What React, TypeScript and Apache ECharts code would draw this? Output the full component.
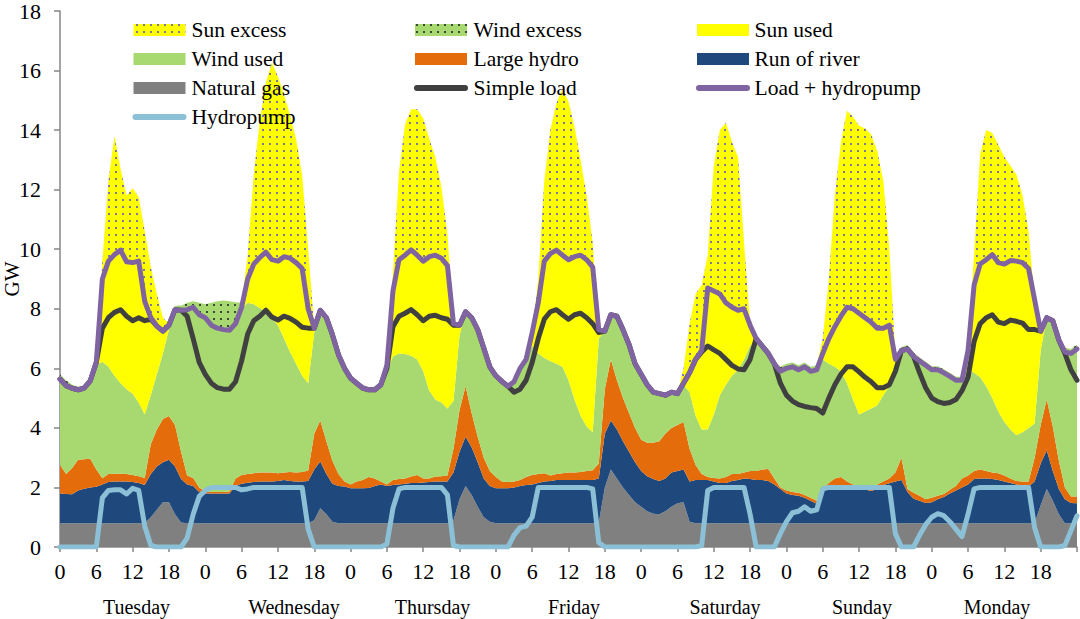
import { useEffect, useRef } from 'react';
import * as echarts from 'echarts';

// Hourly values, Tuesday 0h .. Monday 24h (169 points), GW
const naturalGas = [
  0.8,0.8,0.8,0.8,0.8,0.8,0.8,0.8,0.8,0.8,0.8,0.8,0.8,0.8,0.8,1.0,1.25,1.5,1.5,1.1,0.82,0.8,0.8,0.8,
  0.8,0.8,0.8,0.8,0.8,0.8,0.8,0.8,0.8,0.8,0.8,0.8,0.8,0.8,0.8,0.8,0.8,0.8,0.9,1.3,1.1,0.85,0.8,0.8,
  0.8,0.8,0.8,0.8,0.8,0.8,0.8,0.8,0.8,0.8,0.8,0.8,0.8,0.8,0.8,0.8,0.8,0.9,1.6,2.05,1.75,1.35,1.0,0.85,
  0.8,0.8,0.8,0.8,0.8,0.8,0.8,0.8,0.8,0.8,0.8,0.8,0.8,0.8,0.8,0.8,0.8,0.8,2.0,2.6,2.3,2.0,1.75,1.5,
  1.35,1.2,1.12,1.1,1.2,1.35,1.47,1.5,0.85,0.8,0.8,0.8,0.8,0.8,0.8,0.8,0.8,0.8,0.8,0.8,0.8,0.8,0.8,0.8,
  0.8,0.8,0.8,0.8,0.8,0.8,0.8,0.8,0.8,0.8,0.8,0.8,0.8,0.8,0.8,0.8,0.8,0.8,0.8,0.8,0.8,0.8,0.8,0.8,
  0.8,0.8,0.8,0.8,0.8,0.8,0.8,0.8,0.8,0.8,0.8,0.8,0.8,0.8,0.8,0.8,0.8,0.8,1.4,1.95,1.55,1.1,0.8,0.8,0.8,
];
const runOfRiver = [
  1.0,0.98,0.97,1.1,1.16,1.2,1.22,1.3,1.38,1.4,1.4,1.4,1.38,1.35,1.28,1.45,1.45,1.35,1.43,1.6,1.46,1.3,1.25,1.05,
  1.0,1.0,1.0,1.0,1.0,1.25,1.32,1.36,1.38,1.4,1.4,1.4,1.42,1.45,1.42,1.4,1.4,1.42,1.7,1.57,1.35,1.27,1.25,1.23,
  1.17,1.17,1.17,1.18,1.25,1.3,1.25,1.28,1.3,1.32,1.35,1.35,1.37,1.38,1.4,1.4,1.4,1.6,1.6,1.65,1.6,1.5,1.3,1.2,
  1.17,1.17,1.17,1.2,1.25,1.28,1.3,1.35,1.4,1.42,1.45,1.45,1.45,1.45,1.45,1.45,1.45,1.5,1.8,1.65,1.65,1.55,1.45,1.35,
  1.2,1.18,1.16,1.12,1.1,1.15,1.08,1.1,1.35,1.45,1.45,1.45,1.4,1.35,1.35,1.42,1.45,1.5,1.48,1.45,1.45,1.42,1.3,1.15,
  1.0,0.95,0.92,0.85,0.75,0.65,1.1,1.2,1.23,1.2,1.17,1.17,1.17,1.13,1.08,1.15,1.28,1.34,1.4,1.45,1.05,0.82,0.75,0.68,
  0.7,0.8,0.88,1.0,1.1,1.2,1.3,1.48,1.5,1.5,1.48,1.45,1.4,1.35,1.3,1.25,1.23,1.4,1.4,1.3,1.0,0.85,0.8,0.68,0.67,
];
const largeHydro = [
  0.96,0.67,0.88,1.03,0.99,0.96,0.58,0.21,0.27,0.26,0.26,0.25,0.24,0.23,0.24,1.0,1.25,1.45,1.47,1.4,0.92,0.3,0.27,0.15,
  0.06,0.05,0.05,0.05,0.06,0.25,0.3,0.29,0.3,0.3,0.3,0.3,0.26,0.25,0.3,0.3,0.32,0.35,1.2,1.38,1.1,0.78,0.4,0.17,
  0.13,0.23,0.28,0.37,0.25,0.1,0.05,0.17,0.18,0.18,0.22,0.27,0.13,0.12,0.17,0.18,0.2,0.8,1.4,1.7,1.15,0.85,0.7,0.5,
  0.38,0.23,0.21,0.2,0.2,0.27,0.32,0.3,0.28,0.18,0.2,0.23,0.25,0.25,0.27,0.3,0.33,0.5,1.5,2.05,1.65,1.45,1.3,1.15,
  1.05,1.12,1.22,1.33,1.5,1.5,1.55,1.6,1.1,0.5,0.2,0.1,0.12,0.15,0.2,0.23,0.2,0.2,0.27,0.3,0.35,0.4,0.2,0.05,
  0.1,0.1,0.1,0.1,0.1,0.1,0.05,0.15,0.27,0.35,0.23,0.13,0.08,0.07,0.07,0.15,0.12,0.16,0.3,0.75,0.1,0.2,0.17,0.12,
  0.15,0.12,0.1,0.12,0.15,0.3,0.3,0.27,0.3,0.25,0.22,0.23,0.2,0.15,0.12,0.15,0.17,0.8,1.3,1.7,1.5,0.95,0.4,0.22,0.23,
];
const windUsed = [
  2.88,2.97,2.68,2.35,2.39,2.62,3.5,3.91,3.6,3.29,3.04,2.85,2.73,2.47,2.13,1.65,1.85,2.2,2.9,3.87,4.75,5.57,5.73,5.8,
  5.84,5.6,5.5,5.45,5.42,5.2,5.58,5.75,5.67,5.53,5.4,5.2,4.97,4.5,4.03,3.65,3.23,2.93,3.4,3.7,4.15,4.23,4.01,3.8,
  3.57,3.3,3.09,2.93,2.98,3.25,3.8,4.15,4.22,4.18,4.05,3.88,3.6,2.95,2.58,2.47,2.25,1.6,2.5,2.5,3.2,3.6,3.68,3.5,
  3.4,3.36,3.22,3.35,3.75,3.95,4.33,4.05,3.87,3.85,3.7,3.57,3.1,2.45,1.88,1.5,1.27,4.2,1.95,1.5,2.15,2.3,2.3,2.15,
  2.2,1.95,1.7,1.6,1.3,1.2,1.05,1.25,1.9,1.65,1.5,1.6,2.13,2.8,3.1,3.3,3.5,3.8,4.2,4.45,4.15,3.88,3.85,3.9,
  4.1,4.2,4.13,4.3,4.25,4.4,4.35,4.0,3.75,3.55,3.3,2.85,2.4,2.55,2.7,2.65,2.9,3.1,3.6,3.6,4.7,4.58,4.53,4.5,
  4.3,4.23,4.07,3.81,3.55,3.3,3.55,3.3,3.1,2.85,2.5,2.07,1.8,1.65,1.53,1.65,1.8,1.15,2.5,2.75,3.55,4.05,4.55,4.8,4.95,
];
const sunUsed = [
  0,0,0,0,0,0,0.1,2.78,3.55,4.07,4.47,4.28,4.4,4.75,3.8,2.6,1.62,0.75,0.15,0,0,0,0,0,
  0,0,0,0,0,0,0.05,0.8,1.35,1.69,2.0,1.95,2.15,2.75,3.15,3.4,3.6,2.5,0.15,0,0,0,0,0,
  0,0,0,0,0,0,0.2,2.2,3.15,3.32,3.56,3.5,3.75,4.5,4.85,4.85,4.8,2.6,0.35,0,0,0,0,0,
  0,0,0,0,0,0,0.4,1.7,3.25,3.6,3.82,3.75,4.05,4.8,5.4,5.6,5.55,0.3,0,0,0,0,0,0,
  0,0,0,0,0,0,0,0.05,0.65,1.9,2.65,4.75,4.15,3.4,2.75,2.3,2.0,1.7,0.7,0,0,0,0,0,
  0,0,0,0,0,0,0.2,0.85,1.35,1.85,2.55,3.05,3.4,3.15,2.9,2.6,2.25,2.05,0.2,0,0,0,0,0,
  0,0,0,0,0,0,0.65,2.95,3.8,4.25,4.82,5.0,5.3,5.67,5.85,5.7,5.35,4.15,0.65,0,0,0,0,0,0,
];
const windExcess = [
  0.16,0.18,0.12,0.1,0.06,0.02,0,0,0,0,0,0,0,0,0,0,0,0,0,0.13,0.15,0.23,0.2,0.4,
  0.45,0.75,0.9,0.98,0.97,0.72,0.15,0,0,0,0,0,0,0,0,0,0,0,0,0,0,0.02,0.04,0.05,
  0.08,0.08,0.08,0.08,0.07,0.05,0,0,0,0,0,0,0,0,0,0,0,0,0,0,0,0,0.02,0.05,
  0.05,0.06,0.06,0.05,0.05,0.05,0,0,0,0,0,0,0,0,0,0,0,0,0,0,0,0,0,0,
  0,0,0,0,0,0,0,0,0,0,0,0,0,0,0,0,0,0,0,0.05,0.1,0.1,0.1,0.15,
  0.15,0.15,0.15,0.15,0.15,0.15,0,0,0,0,0,0,0,0,0,0,0,0,0,0.12,0.13,0.12,0.12,0.12,
  0.12,0.12,0.12,0.12,0.12,0.12,0,0,0,0,0,0,0,0,0,0,0,0,0,0,0,0.02,0.15,0.15,0.15,
];
const sunExcess = [
  0,0,0,0,0,0,0,0.6,2.7,3.98,2.73,2.22,2.5,2.15,2.35,1.7,1.08,0.45,0.05,0,0,0,0,0,
  0,0,0,0,0,0,0,0.8,3.0,4.58,5.7,6.6,6.2,5.45,4.8,4.15,3.15,2.0,0,0,0,0,0,0,
  0,0,0,0,0,0,0.05,0.6,2.95,4.4,4.72,4.9,4.75,3.95,3.3,2.4,1.05,0,0,0,0,0,0,0,
  0,0,0,0,0,0,0,0.8,2.7,4.15,4.93,5.6,5.3,4.35,3.2,2.15,0.8,0,0,0,0,0,0,0,
  0,0,0,0,0,0,0,0.5,1.65,2.2,2.2,1.1,4.2,5.5,6.05,5.55,5.15,2.2,0.05,0,0,0,0,0,
  0,0,0,0,0,0,0.5,2.0,4.4,5.85,6.6,6.45,6.3,6.35,6.3,5.95,4.95,2.55,0.15,0,0,0,0,0,
  0,0,0,0,0,0,0.2,1.0,3.7,4.35,4.08,3.95,3.6,3.18,2.9,2.25,1.25,0,0,0,0,0,0,0,0,
];
const simpleLoad = [
  5.64,5.42,5.33,5.28,5.34,5.58,6.2,7.35,7.7,7.88,7.97,7.75,7.6,7.7,7.6,7.65,7.42,7.25,7.45,7.97,7.95,7.75,7.0,6.2,
  5.8,5.5,5.35,5.3,5.3,5.55,6.25,7.15,7.6,7.75,7.95,7.72,7.62,7.75,7.68,7.55,7.38,7.35,7.35,7.95,7.7,7.13,6.46,6.0,
  5.67,5.5,5.34,5.28,5.28,5.45,6.0,7.4,7.75,7.85,7.97,7.8,7.6,7.75,7.78,7.7,7.65,7.45,7.45,7.9,7.7,7.3,6.68,6.05,
  5.75,5.56,5.4,5.2,5.3,5.6,6.2,7.0,7.65,7.9,7.97,7.8,7.65,7.8,7.85,7.7,7.5,7.2,7.25,7.8,7.75,7.3,6.8,6.15,
  5.8,5.45,5.2,5.15,5.1,5.2,5.15,5.5,5.85,6.3,6.55,6.75,6.62,6.5,6.3,6.1,5.98,5.95,6.3,7.0,6.75,6.5,6.15,5.5,
  5.1,4.9,4.78,4.72,4.68,4.65,4.5,5.0,5.45,5.8,6.05,6.05,5.88,5.7,5.55,5.35,5.35,5.45,5.9,6.6,6.65,6.4,5.85,5.35,
  5.0,4.88,4.82,4.85,4.95,5.25,5.7,6.9,7.5,7.7,7.8,7.55,7.5,7.62,7.58,7.52,7.3,7.3,7.25,7.7,7.6,6.95,6.5,5.95,5.6,
];
const loadPlusHydropump = [
  5.64,5.42,5.33,5.28,5.34,5.58,6.2,9.0,9.6,9.82,9.97,9.58,9.55,9.6,8.25,7.7,7.42,7.25,7.45,7.97,7.95,7.97,8.05,7.8,
  7.7,7.45,7.35,7.3,7.28,7.5,8.05,9.0,9.5,9.72,9.9,9.65,9.6,9.75,9.7,9.55,9.35,8.0,7.35,7.95,7.7,7.13,6.46,6.0,
  5.67,5.5,5.34,5.28,5.28,5.45,6.1,8.6,9.65,9.8,9.98,9.8,9.6,9.75,9.8,9.7,9.45,7.5,7.45,7.9,7.7,7.3,6.68,6.05,
  5.75,5.56,5.4,5.55,6.0,6.3,7.2,8.2,9.6,9.85,9.97,9.8,9.65,9.75,9.8,9.65,9.4,7.3,7.25,7.8,7.75,7.3,6.8,6.15,
  5.8,5.45,5.2,5.15,5.1,5.2,5.15,5.5,5.85,6.3,6.6,8.7,8.6,8.5,8.2,8.05,7.95,8.0,7.45,7.0,6.75,6.5,6.15,5.9,
  6.0,6.05,5.95,6.05,5.9,5.95,6.5,7.0,7.4,7.75,8.05,8.0,7.85,7.7,7.55,7.35,7.35,7.45,6.3,6.6,6.65,6.4,6.25,6.1,
  5.95,5.95,5.85,5.73,5.6,5.6,6.6,8.8,9.5,9.65,9.82,9.55,9.5,9.62,9.6,9.55,9.35,8.3,7.25,7.7,7.6,6.95,6.55,6.5,6.65,
];
const hydropump = [
  0,0,0,0,0,0,0,1.65,1.9,1.92,1.92,1.78,1.97,1.9,0.7,0.05,0,0,0,0,0,0.3,1.1,1.7,
  1.9,2,2,2,2,2,1.92,1.95,2,2,2,2,2,2,2,2,2,0.6,0,0,0,0,0,0,
  0,0,0,0,0,0,0.1,1.3,1.95,2,2,2,2,2,2,2,1.75,0.05,0,0,0,0,0,0,
  0,0,0,0.4,0.65,0.7,1.0,2,2,2,2,2,2,2,2,2,1.95,0.15,0,0,0,0,0,0,
  0,0,0,0,0,0,0,0,0,0,0.05,1.9,2,2,2,2,2,2,1.1,0,0,0,0,0.45,
  0.85,1.15,1.2,1.35,1.2,1.25,1.95,2,2,2,2,2,2,2,2,2,2,2,0.45,0,0,0,0.4,0.75,
  1.0,1.12,1.05,0.85,0.6,0.35,1.1,1.95,2,2,2,2,2,2,2,2,2,0.65,0,0,0,0,0.05,0.55,1.05,
];
const dayLabels = ['Tuesday', 'Wednesday', 'Thursday', 'Friday', 'Saturday', 'Sunday', 'Monday'];
const dayLabelX = [136.5, 294, 432.5, 574, 725, 862, 997];

const FONT = '"Liberation Serif", "Times New Roman", serif';
const C = {
  sun: '#ffff00',
  wind: '#a8d870',
  hydro: '#e46c0a',
  river: '#1f497d',
  gas: '#808080',
  load: '#404040',
  loadPump: '#8064a2',
  pump: '#8cc0d6',
  sunDot: '#7a7a9a',
  windDot: '#3a4a3a',
};

function dotPattern(bg: string, dot: string) {
  const c = document.createElement('canvas');
  c.width = 7;
  c.height = 7;
  const ctx = c.getContext('2d')!;
  ctx.fillStyle = bg;
  ctx.fillRect(0, 0, 7, 7);
  ctx.fillStyle = dot;
  ctx.fillRect(3, 3, 2, 2);
  return { image: c.toDataURL(), repeat: 'repeat', imageWidth: 7, imageHeight: 7 } as any;
}

export default function App() {
  const ref = useRef<HTMLDivElement>(null);
  useEffect(() => {
    if (!ref.current) return;
    const chart = echarts.init(ref.current, undefined, { renderer: 'svg' });
    const sunPat = dotPattern(C.sun, C.sunDot);
    const windPat = dotPattern(C.wind, C.windDot);
    const hourLabels = naturalGas.map((_, i) => String(i % 24));
    const area = (name: string, data: number[], fill: any, solid: string) => ({
      name,
      type: 'line',
      stack: 'total',
      data,
      symbol: 'none',
      showSymbol: false,
      lineStyle: { width: 0, opacity: 0 },
      areaStyle: { color: fill, opacity: 1 },
      itemStyle: { color: solid },
      emphasis: { disabled: true },
      z: 2,
    });
    const line = (name: string, data: number[], color: string) => ({
      name,
      type: 'line',
      data,
      symbol: 'none',
      showSymbol: false,
      lineStyle: { color, width: 5, cap: 'round', join: 'round' },
      itemStyle: { color },
      emphasis: { disabled: true },
      z: 3,
    });

    const legendRows = [30, 59, 88, 117];
    const cols = [{ ix: 133.5, tx: 191.5 }, { ix: 415, tx: 473.5 }, { ix: 697, tx: 754.5 }];
    const items: { name: string; kind: 'rect' | 'line'; fill: any }[][] = [
      [
        { name: 'Sun excess', kind: 'rect', fill: sunPat },
        { name: 'Wind excess', kind: 'rect', fill: windPat },
        { name: 'Sun used', kind: 'rect', fill: C.sun },
      ],
      [
        { name: 'Wind used', kind: 'rect', fill: C.wind },
        { name: 'Large hydro', kind: 'rect', fill: C.hydro },
        { name: 'Run of river', kind: 'rect', fill: C.river },
      ],
      [
        { name: 'Natural gas', kind: 'rect', fill: C.gas },
        { name: 'Simple load', kind: 'line', fill: C.load },
        { name: 'Load + hydropump', kind: 'line', fill: C.loadPump },
      ],
      [{ name: 'Hydropump', kind: 'line', fill: C.pump }],
    ];
    const graphics: any[] = [];
    items.forEach((row, r) => {
      row.forEach((it, c) => {
        const y = legendRows[r];
        const col = cols[c];
        if (it.kind === 'rect') {
          graphics.push({
            type: 'rect',
            shape: { x: col.ix, y: y - 6, width: 52, height: 12 },
            style: { fill: it.fill },
            z: 100,
          });
        } else {
          graphics.push({
            type: 'line',
            shape: { x1: col.ix + 2, y1: y, x2: col.ix + 50, y2: y },
            style: { stroke: it.fill, lineWidth: 6, lineCap: 'round' },
            z: 100,
          });
        }
        graphics.push({
          type: 'text',
          x: col.tx,
          y,
          style: {
            text: it.name,
            fontSize: 21.5,
            fontFamily: FONT,
            fill: '#000',
            textAlign: 'left',
            textVerticalAlign: 'middle',
          },
          z: 100,
        });
      });
    });
    dayLabels.forEach((d, i) => {
      graphics.push({
        type: 'text',
        x: dayLabelX[i],
        y: 607,
        style: {
          text: d,
          fontSize: 20,
          fontFamily: FONT,
          fill: '#000',
          textAlign: 'center',
          textVerticalAlign: 'middle',
        },
        z: 100,
      });
    });

    chart.setOption({
      animation: false,
      backgroundColor: '#ffffff',
      grid: { left: 60, right: 3, top: 11, bottom: 72, containLabel: false, outerBoundsMode: 'none' },
      xAxis: {
        type: 'category',
        data: hourLabels,
        boundaryGap: false,
        axisLine: { show: true, lineStyle: { color: '#868686', width: 1.5 } },
        axisTick: {
          show: true,
          length: 5,
          interval: (i: number) => i % 6 === 0,
          lineStyle: { color: '#868686', width: 1.5 },
        },
        splitLine: { show: false },
        axisLabel: {
          interval: (i: number) => i % 6 === 0 && i < 168,
          fontSize: 22,
          fontFamily: FONT,
          color: '#000',
          margin: 13,
        },
      },
      yAxis: {
        type: 'value',
        min: 0,
        max: 18,
        interval: 2,
        name: 'GW',
        nameLocation: 'middle',
        nameGap: 38,
        nameMoveOverlap: false,
        nameTextStyle: { fontSize: 21, fontFamily: FONT, color: '#000' },
        axisLine: { show: true, lineStyle: { color: '#868686', width: 1.5 } },
        axisTick: { show: true, length: 6, lineStyle: { color: '#868686', width: 1.5 } },
        splitLine: { show: false },
        axisLabel: { fontSize: 22, fontFamily: FONT, color: '#000', margin: 19 },
      },
      series: [
        area('Natural gas', naturalGas, C.gas, C.gas),
        area('Run of river', runOfRiver, C.river, C.river),
        area('Large hydro', largeHydro, C.hydro, C.hydro),
        area('Wind used', windUsed, C.wind, C.wind),
        area('Sun used', sunUsed, C.sun, C.sun),
        area('Wind excess', windExcess, windPat, C.wind),
        area('Sun excess', sunExcess, sunPat, C.sun),
        line('Simple load', simpleLoad, C.load),
        line('Load + hydropump', loadPlusHydropump, C.loadPump),
        line('Hydropump', hydropump, C.pump),
      ],
      graphic: graphics,
    });
    return () => chart.dispose();
  }, []);
  return <div ref={ref} style={{ width: 1080, height: 619, position: 'absolute', left: 0, top: 0 }} />;
}
